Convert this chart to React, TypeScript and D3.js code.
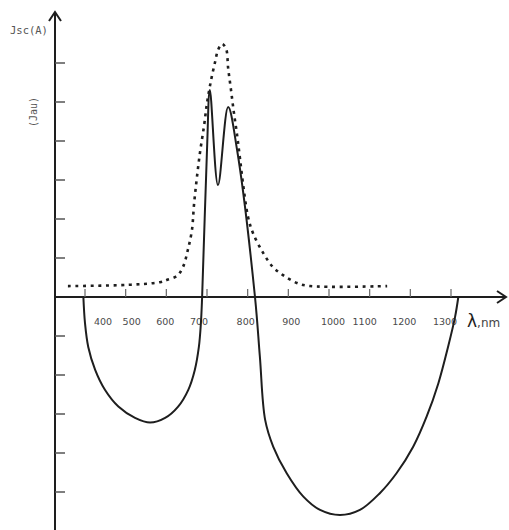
import React, { useEffect, useRef } from "react";
import * as d3 from "d3";

// wavelength ticks (nm) and their labels
const tickWavelengths = [400, 500, 600, 700, 800, 900, 1000, 1100, 1200, 1300];
const tickLabels = ["400", "500", "600", "700", "800", "900", "1000", "1100", "1200", "1300"];
// y ticks, in tick units (0 is the axis itself)
const yTicks = [-5, -4, -3, -2, -1, 1, 2, 3, 4, 5, 6];

// solid curve: Jsc(A)
const solidWavelength = [
  396, 400, 408, 425, 449, 482, 523, 560, 597, 629, 654, 670, 680, 685, 688,
  700, 707, 727, 752, 774, 818,
  830, 843, 863, 896, 937, 978, 1027, 1076, 1125, 1166, 1207, 1240, 1269, 1293, 1310, 1318,
];
const solidJsc = [
  0, -0.67, -1.28, -1.87, -2.38, -2.81, -3.1, -3.22, -3.1, -2.81, -2.38, -1.87, -1.28, -0.67, 0,
  3.77, 5.31, 2.87, 4.87, 3.77, 0,
  -1.53, -3.15, -3.84, -4.52, -5.12, -5.46, -5.59, -5.46, -5.03, -4.52, -3.84, -3.07, -2.21, -1.27, -0.51, 0,
];

// dotted curve: Jsc (a.u.)
const dashWavelength = [
  358, 503, 584, 602, 626, 641, 653, 663, 668, 675, 683, 693, 700, 710, 720, 727,
  737, 747, 752, 759, 766, 774, 781, 789, 801, 813, 838, 862, 887, 921, 953, 1143,
];
const dashJsc = [
  0.28, 0.31, 0.38, 0.44, 0.54, 0.77, 1.21, 1.72, 2.36, 3.05, 3.72, 4.41, 4.97, 5.56, 6.03, 6.33,
  6.49, 6.36, 5.87, 5.31, 4.74, 4.15, 3.56, 2.87, 2.05, 1.64, 1.13, 0.77, 0.56, 0.36, 0.28, 0.28,
];

const W = 509;
const H = 530;
// label nudges, the hand-set labels are not centred on their ticks
const labelShift = [18, 6, -1, -8, -2, 3, 4, -5, -6, -6];

const Chart = () => {
  const ref = useRef<SVGSVGElement | null>(null);

  useEffect(() => {
    const svg = d3.select(ref.current);
    svg.selectAll("*").remove();

    const x = d3.scaleLinear().domain([400, 1300]).range([85, 451]);
    const y = d3.scaleLinear().domain([0, 6]).range([297, 63]);

    const axisX = 55; // y axis position
    const axisY = y(0);
    const ink = "#1e1e1e";

    const g = svg.append("g");

    // y axis with arrow
    g.append("line")
      .attr("x1", axisX).attr("x2", axisX)
      .attr("y1", 12).attr("y2", H)
      .attr("stroke", ink).attr("stroke-width", 2);
    g.append("path")
      .attr("d", `M${axisX - 6},${21} L${axisX},${12} L${axisX + 6},${21}`)
      .attr("fill", "none").attr("stroke", ink).attr("stroke-width", 2);

    // x axis with arrow
    g.append("line")
      .attr("x1", axisX).attr("x2", 506)
      .attr("y1", axisY).attr("y2", axisY)
      .attr("stroke", ink).attr("stroke-width", 2);
    g.append("path")
      .attr("d", `M${497},${axisY - 6} L${506},${axisY} L${497},${axisY + 6}`)
      .attr("fill", "none").attr("stroke", ink).attr("stroke-width", 2);

    // y ticks
    g.selectAll(".yt")
      .data(yTicks)
      .enter().append("line")
      .attr("x1", axisX).attr("x2", axisX + 10)
      .attr("y1", d => y(d)).attr("y2", d => y(d))
      .attr("stroke", "#555").attr("stroke-width", 1.5);

    // x ticks
    g.selectAll(".xt")
      .data(tickWavelengths)
      .enter().append("line")
      .attr("x1", d => x(d)).attr("x2", d => x(d))
      .attr("y1", axisY - 8).attr("y2", axisY)
      .attr("stroke", "#666").attr("stroke-width", 1.2);

    g.selectAll(".xl")
      .data(tickLabels)
      .enter().append("text")
      .attr("x", (d, i) => x(tickWavelengths[i]) + labelShift[i])
      .attr("y", axisY + 28)
      .attr("text-anchor", "middle")
      .attr("font-family", "DejaVu Sans, sans-serif")
      .attr("font-size", 9.5)
      .attr("fill", "#4a4a4a")
      .text(d => d);

    // axis titles
    const xt = g.append("text")
      .attr("x", 467).attr("y", axisY + 30)
      .attr("font-family", "DejaVu Sans, sans-serif")
      .attr("fill", ink);
    xt.append("tspan").attr("font-size", 17).text("λ");
    xt.append("tspan").attr("font-size", 12).attr("fill", "#444").text(",nm");

    g.append("text")
      .attr("x", 10).attr("y", 34)
      .attr("font-family", "DejaVu Sans Mono, monospace")
      .attr("font-size", 10.5)
      .attr("fill", "#555")
      .text("Jsc(A)");

    g.append("text")
      .attr("transform", "translate(37,112) rotate(-90)")
      .attr("text-anchor", "middle")
      .attr("font-family", "DejaVu Sans Mono, monospace")
      .attr("font-size", 10)
      .attr("fill", "#555")
      .text("(Jau)");

    const curve = d3.line<[number, number]>()
      .x(d => x(d[0]))
      .y(d => y(d[1]))
      .curve(d3.curveCatmullRom.alpha(0.5));

    // dotted curve
    g.append("path")
      .attr("d", curve(dashWavelength.map((w, i) => [w, dashJsc[i]] as [number, number])))
      .attr("fill", "none")
      .attr("stroke", ink)
      .attr("stroke-width", 2.6)
      .attr("stroke-dasharray", "3,4.6");

    // solid curve
    g.append("path")
      .attr("d", curve(solidWavelength.map((w, i) => [w, solidJsc[i]] as [number, number])))
      .attr("fill", "none")
      .attr("stroke", ink)
      .attr("stroke-width", 2);
  }, []);

  return (
    <svg
      ref={ref}
      width={W}
      height={H}
      style={{ position: "absolute", left: 0, top: 0, background: "#fff" }}
    />
  );
};

export default function App() {
  return <Chart />;
}
